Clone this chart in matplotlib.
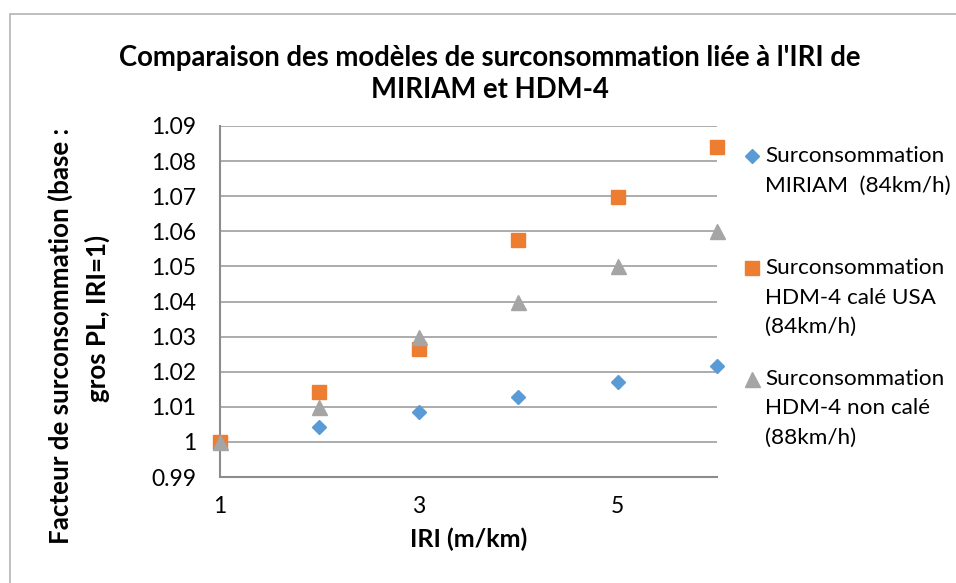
import matplotlib
matplotlib.use("Agg")
import matplotlib.pyplot as plt
from matplotlib.lines import Line2D
from matplotlib.patches import Rectangle

# Données : IRI (m/km) et facteurs de surconsommation
iri = [1, 2, 3, 4, 5, 6]
miriam_84 = [1.0, 1.0043, 1.0086, 1.0128, 1.0171, 1.0216]
hdm4_usa_84 = [1.0, 1.0143, 1.0264, 1.0575, 1.0697, 1.0841]
hdm4_non_cale_88 = [1.0, 1.01, 1.03, 1.04, 1.05, 1.06]

series_labels = [
    "Surconsommation\nMIRIAM  (84km/h)",
    "Surconsommation\nHDM-4 calé USA\n(84km/h)",
    "Surconsommation\nHDM-4 non calé\n(88km/h)",
]
x_ticks = [1, 3, 5]
y_ticks = [0.99, 1.0, 1.01, 1.02, 1.03, 1.04, 1.05, 1.06, 1.07, 1.08, 1.09]
y_tick_labels = ["0.99", "1", "1.01", "1.02", "1.03", "1.04", "1.05",
                 "1.06", "1.07", "1.08", "1.09"]

title = "Comparaison des modèles de surconsommation liée à l'IRI de\nMIRIAM et HDM-4"
x_label = "IRI (m/km)"
y_label_lines = ["Facteur de surconsommation (base :", "gros PL, IRI=1)"]

BLUE = "#5B9BD5"
ORANGE = "#ED7D31"
GREY = "#A5A5A5"

plt.rcParams["font.family"] = ["Lato", "DejaVu Sans"]

W, H = 956, 583
fig = plt.figure(figsize=(W / 100, H / 100), dpi=100)


def fx(px):
    return px / W


def fy(py):
    return 1 - py / H


# cadre de la zone de graphique
fig.add_artist(Rectangle((fx(10), -0.05), 1.0, fy(14) + 0.05,
                         transform=fig.transFigure, fill=False,
                         edgecolor="#b4b4b4", linewidth=1.2))

left, right, top, bottom = 220, 717, 126, 477
ax = fig.add_axes([fx(left), fy(bottom), (right - left) / W, (bottom - top) / H])

ax.set_xlim(1, 6)
ax.set_ylim(0.99, 1.09)
ax.set_xticks(x_ticks)
ax.set_yticks(y_ticks)
ax.set_yticklabels(y_tick_labels)
ax.tick_params(axis="both", length=0, labelsize=16.5, colors="#000000")
ax.tick_params(axis="x", pad=14)
ax.tick_params(axis="y", pad=17)

ax.grid(axis="y", color="#a6a6a6", linewidth=1.3)
ax.set_axisbelow(True)
for side in ("top", "right"):
    ax.spines[side].set_visible(False)
for side in ("left", "bottom"):
    ax.spines[side].set_color("#8c8c8c")
    ax.spines[side].set_linewidth(1.5)

markers = {"miriam": ("D", 7.3), "usa": ("s", 10.5), "non_cale": ("^", 10.8)}

ax.plot(iri, miriam_84, linestyle="none", marker=markers["miriam"][0],
        markersize=markers["miriam"][1], color=BLUE, clip_on=False, zorder=3)
ax.plot(iri, hdm4_usa_84, linestyle="none", marker=markers["usa"][0],
        markersize=markers["usa"][1], color=ORANGE, clip_on=False, zorder=3)
ax.plot(iri, hdm4_non_cale_88, linestyle="none", marker=markers["non_cale"][0],
        markersize=markers["non_cale"][1], color=GREY, clip_on=False, zorder=4)

# titre de l'axe horizontal
ax.set_xlabel(x_label, fontsize=18, fontweight="bold", va="center")
ax.xaxis.set_label_coords(0.5, (bottom - 539) / (bottom - top))

# titre de l'axe vertical (deux lignes)
for (xpos, ypos), txt in zip(((60, 336), (97, 318)), y_label_lines):
    fig.text(fx(xpos), fy(ypos), txt, rotation=90, ha="center", va="center",
             fontsize=18.6, fontweight="bold")

fig.text(fx(490), fy(74), title, ha="center", va="center",
         fontsize=19.8, fontweight="bold", linespacing=1.3)

# légende à droite
legend_items = [
    (markers["miriam"], BLUE, 156),
    (markers["usa"], ORANGE, 268),
    (markers["non_cale"], GREY, 379),
]
for ((mk, ms), col, yy), lab in zip(legend_items, series_labels):
    fig.add_artist(Line2D([fx(752)], [fy(yy)], marker=mk, markersize=ms,
                          color=col, linestyle="none", transform=fig.transFigure))
    for i, line in enumerate(lab.split("\n")):
        fig.text(fx(765), fy(yy + 29.5 * i), line, ha="left", va="center",
                 fontsize=16.2)

fig.savefig("out.png", dpi=100)
